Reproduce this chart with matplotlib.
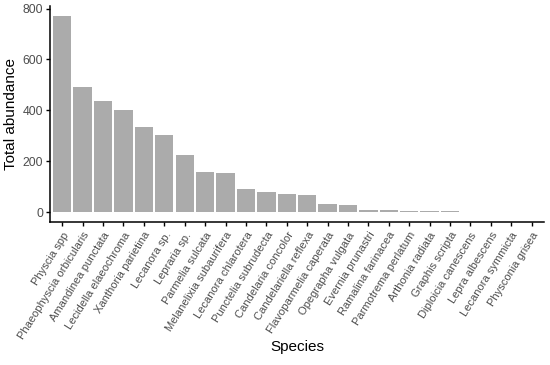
import matplotlib
matplotlib.use('Agg')
import matplotlib.pyplot as plt

species = ['Physcia spp', 'Phaeophyscia orbicularis', 'Amandinea punctata',
           'Lecidella elaeochroma', 'Xanthoria parietina', 'Lecanora sp.',
           'Lepraria sp.', 'Parmelia sulcata', 'Melanelixia subaurifera',
           'Lecanora chlarotera', 'Punctelia subrudecta', 'Candelaria concolor',
           'Candelariella reflexa', 'Flavoparmelia caperata', 'Opegrapha vulgata',
           'Evernia prunastri', 'Ramalina farinacea', 'Parmotrema perlatum',
           'Arthonia radiata', 'Graphis scripta', 'Diploicia canescens',
           'Lepra albescens', 'Lecanora symmicta', 'Physconia grisea']
abundance = [772, 490, 435, 400, 335, 304, 224, 159, 155, 89, 80, 71, 66, 33, 29,
             8, 8, 6, 4, 4, 2, 2, 2, 2]
y_ticks = [0, 200, 400, 600, 800]

plt.rcParams['font.family'] = ['Liberation Sans', 'DejaVu Sans']

fig = plt.figure(figsize=(5.5, 3.65), dpi=100)
ax = fig.add_axes([0.0909, 0.392, 0.898, 0.592])

x = list(range(1, len(species) + 1))
ax.bar(x, abundance, width=0.9, color='#ABABAB')

top = max(abundance)
ax.set_ylim(-0.05 * top, top * 1.05)
ax.set_xlim(0.4, len(species) + 0.6)
ax.set_yticks(y_ticks)
ax.set_xticks(x)
ax.set_xticklabels(species, rotation=58, ha='right', rotation_mode='anchor')

for s in ['top', 'right']:
    ax.spines[s].set_visible(False)
for s in ['left', 'bottom']:
    ax.spines[s].set_linewidth(1.1)
    ax.spines[s].set_color('black')
ax.tick_params(axis='both', colors='black', labelcolor='#4D4D4D',
               length=3, width=1)
ax.tick_params(axis='y', labelsize=8.8, pad=2)
ax.tick_params(axis='x', labelsize=8, pad=3)

ax.set_ylabel('Total abundance', fontsize=11)
ax.yaxis.set_label_coords(-0.064, 0.5)
fig.text(0.54, 0.048, 'Species', fontsize=11, ha='center', va='center')

fig.savefig('out.png', dpi=100)
